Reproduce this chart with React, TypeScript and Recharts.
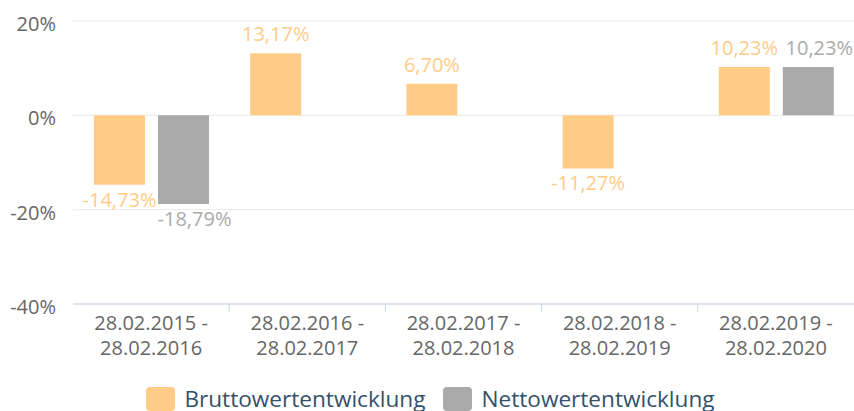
import React from 'react';
import { BarChart, Bar, XAxis, YAxis, CartesianGrid, LabelList, Legend } from 'recharts';

const periods = [
  '28.02.2015 - 28.02.2016',
  '28.02.2016 - 28.02.2017',
  '28.02.2017 - 28.02.2018',
  '28.02.2018 - 28.02.2019',
  '28.02.2019 - 28.02.2020',
];
const brutto = [-14.73, 13.17, 6.7, -11.27, 10.23];
const netto: (number | null)[] = [-18.79, null, null, null, 10.23];
const yTicks = [-40, -20, 0, 20];

const seriesNames = ['Bruttowertentwicklung', 'Nettowertentwicklung'];
const ORANGE = '#ffcc88';
const GREY = '#aaaaaa';

const W = 854;
const H = 411;
const Y_W = 73;
const BAND = (W - Y_W) / periods.length;
const FONT = "'Open Sans', sans-serif";

const data = periods.map((p, i) => ({ period: p, brutto: brutto[i], netto: netto[i] }));

const fmt = (v: number) => v.toFixed(2).replace('.', ',') + '%';

// value label above positive bars, below negative ones
const makeLabel = (color: string, dx: number) => (props: any) => {
  const { x, y, width, height, value } = props;
  if (value == null) return null;
  const top = Math.min(y, y + height);
  const bottom = Math.max(y, y + height);
  const ty = value >= 0 ? top - 12 : bottom + 22;
  return (
    <text x={x + width / 2 + dx} y={ty} textAnchor="middle" fill={color} fontSize={20} fontFamily={FONT}>
      {fmt(value)}
    </text>
  );
};

const XTick = (props: any) => {
  const { x, y, payload, index } = props;
  const [a, b] = String(payload.value).split(' - ');
  return (
    <g>
      {index > 0 && (
        <line x1={x - BAND / 2} x2={x - BAND / 2} y1={y} y2={y + 8} stroke="#ccd6eb" strokeWidth={1} />
      )}
      <text x={x} y={y + 26} textAnchor="middle" fill="#666666" fontSize={20} fontFamily={FONT}>
        {a + ' -'}
      </text>
      <text x={x} y={y + 51} textAnchor="middle" fill="#666666" fontSize={20} fontFamily={FONT}>
        {b}
      </text>
    </g>
  );
};

const YTick = (props: any) => {
  const { y, payload } = props;
  return (
    <text x={56} y={y + 10} textAnchor="end" fill="#666666" fontSize={20} fontFamily={FONT}>
      {payload.value + '%'}
    </text>
  );
};

const LegendBox = () => (
  <div
    style={{
      height: 27,
      display: 'flex',
      justifyContent: 'center',
      alignItems: 'flex-start',
      fontFamily: FONT,
      paddingLeft: 7,
      overflow: 'visible',
    }}
  >
    {seriesNames.map((name, i) => (
      <div key={name} style={{ display: 'flex', alignItems: 'flex-start', marginRight: i === 0 ? 18 : 0 }}>
        <div
          style={{
            width: 29,
            height: 24,
            marginTop: 3,
            borderRadius: 4,
            background: i === 0 ? ORANGE : GREY,
            marginRight: 9,
          }}
        />
        <span style={{ fontSize: 22.6, lineHeight: '30px', color: '#34516b', whiteSpace: 'nowrap' }}>{name}</span>
      </div>
    ))}
  </div>
);

export default function App() {
  return (
    <div style={{ position: 'absolute', left: 0, top: 0, width: W, height: H, overflow: 'hidden', background: '#fff' }}>
      <BarChart width={W} height={H} data={data} margin={{ top: 21, right: 0, left: 0, bottom: 0 }} barGap={13} barSize={51}>
        <CartesianGrid vertical={false} stroke="#e9e9e9" />
        <XAxis
          dataKey="period"
          height={80}
          interval={0}
          tickLine={false}
          tickSize={0}
          tickMargin={0}
          axisLine={{ stroke: '#ccd6eb' }}
          tick={<XTick />}
        />
        <YAxis
          width={Y_W}
          domain={[-40, 20]}
          ticks={yTicks}
          axisLine={false}
          tickLine={false}
          tick={<YTick />}
        />
        <Legend verticalAlign="bottom" content={() => <LegendBox />} />
        <Bar dataKey="brutto" fill={ORANGE} isAnimationActive={false}>
          <LabelList dataKey="brutto" content={makeLabel(ORANGE, 0)} />
        </Bar>
        <Bar dataKey="netto" fill={GREY} isAnimationActive={false}>
          <LabelList dataKey="netto" content={makeLabel(GREY, 11)} />
        </Bar>
      </BarChart>
    </div>
  );
}
